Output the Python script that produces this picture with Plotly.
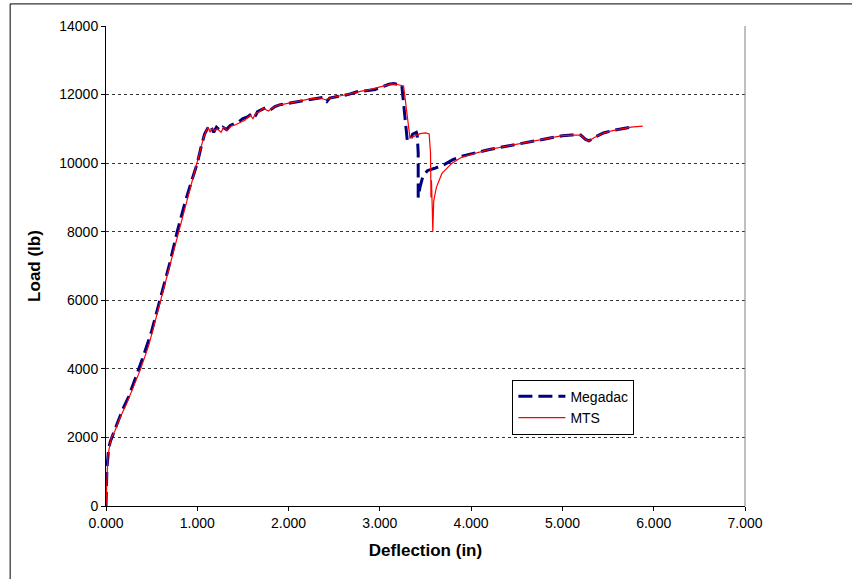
import plotly.graph_objects as go

# ---- data ----
megadac_x = [0, 0.005, 0.01, 0.02, 0.03, 0.05, 0.08, 0.12, 0.18, 0.25, 0.32, 0.40, 0.50, 0.60,
             0.70, 0.78, 0.86, 0.94, 1.00, 1.04, 1.08, 1.11, 1.13, 1.15, 1.18, 1.21, 1.25, 1.28,
             1.32, 1.36, 1.40, 1.45, 1.50, 1.55, 1.60, 1.63, 1.66, 1.70, 1.75, 1.80, 1.85, 1.90,
             2.00, 2.10, 2.20, 2.30, 2.38, 2.42, 2.45, 2.55, 2.65, 2.75, 2.85, 2.95, 3.05, 3.10,
             3.15, 3.20, 3.24, 3.30, 3.33, 3.36, 3.40, 3.41, 3.42, 3.42, 3.44, 3.47, 3.52, 3.60,
             3.70, 3.80, 3.90, 4.00, 4.20, 4.40, 4.60, 4.80, 5.00, 5.10, 5.20, 5.25, 5.29, 5.35,
             5.45, 5.55, 5.65, 5.75]
megadac_y = [0, 600, 1100, 1400, 1700, 1900, 2100, 2400, 2800, 3200, 3700, 4300, 5100, 6100,
             7100, 8000, 8800, 9500, 10000, 10450, 10850, 11000, 10950, 11050, 10900, 11050, 10950, 11050,
             10980, 11100, 11150, 11200, 11300, 11350, 11450, 11350, 11500, 11550, 11620, 11550, 11650, 11700,
             11750, 11800, 11850, 11900, 11920, 11800, 11900, 11950, 12000, 12080, 12120, 12150, 12250, 12300,
             12320, 12300, 12280, 10670, 10650, 10850, 10900, 10800, 10300, 9000, 9300, 9600, 9780, 9850,
             9950, 10100, 10200, 10270, 10400, 10500, 10600, 10720, 10800, 10820, 10820, 10700, 10650, 10750,
             10880, 10950, 11000, 11050]

mts_x = [0, 0.005, 0.01, 0.02, 0.04, 0.06, 0.10, 0.15, 0.22, 0.30, 0.38, 0.47, 0.57, 0.67,
         0.76, 0.84, 0.92, 0.99, 1.03, 1.07, 1.10, 1.12, 1.14, 1.16, 1.19, 1.22, 1.26, 1.29,
         1.33, 1.37, 1.42, 1.47, 1.52, 1.58, 1.61, 1.64, 1.68, 1.72, 1.78, 1.82, 1.87, 1.95,
         2.05, 2.15, 2.25, 2.35, 2.40, 2.44, 2.50, 2.60, 2.70, 2.80, 2.90, 3.00, 3.08, 3.13,
         3.18, 3.22, 3.26, 3.33, 3.38, 3.44, 3.50, 3.54, 3.555, 3.56, 3.565, 3.575, 3.58, 3.59,
         3.62, 3.68, 3.79, 3.90, 4.00, 4.20, 4.40, 4.60, 4.80, 5.00, 5.10, 5.20, 5.25, 5.29,
         5.35, 5.45, 5.55, 5.65, 5.75, 5.88]
mts_y = [0, 500, 1000, 1450, 1750, 2000, 2200, 2550, 2950, 3500, 4000, 4700, 5700, 6700,
         7600, 8400, 9200, 9950, 10300, 10750, 10950, 11050, 10900, 11000, 10950, 11000, 10900, 11050,
         10950, 11080, 11120, 11180, 11250, 11400, 11300, 11450, 11500, 11600, 11520, 11600, 11680, 11720,
         11780, 11820, 11880, 11900, 11850, 11880, 11930, 11980, 12050, 12100, 12150, 12220, 12280, 12310,
         12300, 12280, 12250, 10730, 10780, 10860, 10880, 10850, 10300, 9000, 9500, 8600, 8000, 8900,
         9300, 9700, 10000, 10180, 10250, 10400, 10500, 10600, 10720, 10800, 10820, 10820, 10700, 10650,
         10750, 10880, 10950, 11000, 11050, 11080]

x_ticks = [0, 1, 2, 3, 4, 5, 6, 7]
y_ticks = [0, 2000, 4000, 6000, 8000, 10000, 12000, 14000]

FONT = "Liberation Sans, Arial, sans-serif"

fig = go.Figure()
fig.add_trace(go.Scatter(x=megadac_x, y=megadac_y, mode="lines", name="Megadac",
                         line=dict(color="#000080", width=3, dash="14px,6px")))
fig.add_trace(go.Scatter(x=mts_x, y=mts_y, mode="lines", name="MTS",
                         line=dict(color="#ff0000", width=1.2)))

fig.update_layout(
    width=852, height=579,
    margin=dict(l=106, r=107, t=26, b=73),
    paper_bgcolor="white", plot_bgcolor="white",
    font=dict(family=FONT, size=14, color="black"),
    showlegend=True,
    legend=dict(x=0.636, y=0.263, xanchor="left", yanchor="top",
                bordercolor="black", borderwidth=1, bgcolor="white",
                font=dict(family=FONT, size=14), tracegroupgap=6,
                itemwidth=47),
    xaxis=dict(range=[0, 7], tickvals=x_ticks, tickformat=".3f",
               showgrid=False, zeroline=False, showline=True, linecolor="black", linewidth=1,
               ticks="outside", ticklen=4, tickcolor="black",
               tickfont=dict(family=FONT, size=14),
               title=dict(text="<b>Deflection (in)</b>", font=dict(family=FONT, size=17), standoff=14)),
    yaxis=dict(range=[0, 14000], tickvals=y_ticks, tickformat="d",
               showgrid=True, gridcolor="#333333", griddash="dot", gridwidth=1,
               zeroline=False, showline=True, linecolor="black", linewidth=1,
               ticks="outside", ticklen=4, tickcolor="black",
               tickfont=dict(family=FONT, size=14),
               title=dict(text="<b>Load (lb)</b>", font=dict(family=FONT, size=17), standoff=14)),
    shapes=[
        dict(type="line", xref="paper", yref="paper", x0=1, x1=1, y0=0, y1=1,
             line=dict(color="#808080", width=1)),
        dict(type="rect", xref="paper", yref="paper", x0=-0.150, x1=1.2, y0=-0.2, y1=1.046,
             line=dict(color="black", width=1), fillcolor="rgba(0,0,0,0)", layer="below"),
    ],
)

fig.write_html("out.html")
